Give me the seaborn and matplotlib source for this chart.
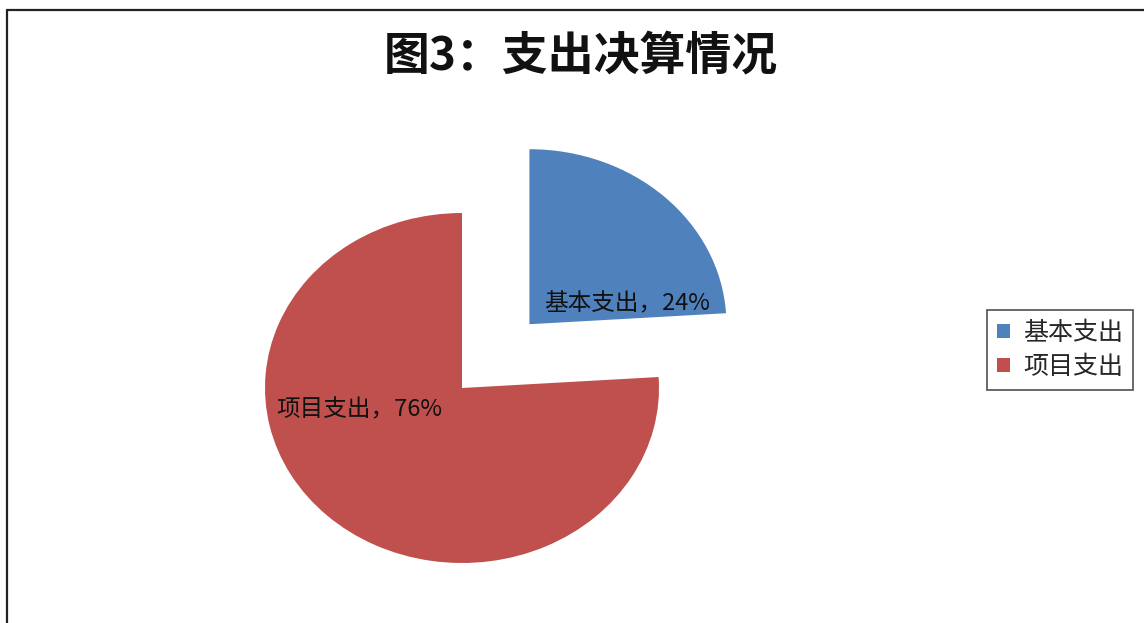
import matplotlib
matplotlib.use("Agg")
import matplotlib.pyplot as plt
import seaborn as sns
from matplotlib.lines import Line2D

categories = ["基本支出", "项目支出"]
values = [24, 76]
title_text = "图3：支出决算情况"

sns.set_theme(style="white")
plt.rcParams['font.family'] = ['Noto Sans CJK SC', 'DejaVu Sans']

colors = ["#4F81BD", "#C0504D"]

W, H = 1144, 623
fig = plt.figure(figsize=(W / 100, H / 100), dpi=100)
fig.patch.set_facecolor("white")

ax = fig.add_axes([0, 0, 1, 1])
wedges, _ = ax.pie(values, colors=colors, startangle=90, counterclock=False,
                   explode=[0.5, 0], wedgeprops=dict(linewidth=0))
ax.set_aspect("auto")

# pie centre at pixel (462, 388 from top); rx=197 px, ry=175 px
cx, cy = 462, H - 388
rx, ry = 197, 175
ax.set_xlim(-cx / rx, (W - cx) / rx)
ax.set_ylim(-cy / ry, (H - cy) / ry)
ax.axis("off")

def px(x, y_top):
    return (x - cx) / rx, (H - y_top - cy) / ry

label_pos = [px(544, 304), px(276, 410)]
for cat, v, (lx, ly) in zip(categories, values, label_pos):
    ax.text(lx, ly, f"{cat}，{v}%", ha="left", va="center", fontsize=17,
            color="#111111")

fig.text(581 / W, 1 - 56 / H, title_text, ha="center", va="center",
         fontsize=33, fontweight="bold", color="#111111")

leg = ax.legend(wedges, categories, loc="upper left",
                bbox_to_anchor=(987 / W, 1 - 310 / H), bbox_transform=fig.transFigure,
                borderaxespad=0, fontsize=18, frameon=True, fancybox=False,
                handlelength=0.5, handleheight=0.5, handletextpad=0.55,
                labelspacing=0.3, borderpad=0.4)
leg.get_frame().set_edgecolor("#222222")
leg.get_frame().set_linewidth(1.2)

# outer frame (top and left edges visible)
fig.add_artist(Line2D([7 / W, 1], [1 - 10 / H, 1 - 10 / H], transform=fig.transFigure,
                      color="#222222", linewidth=1.6))
fig.add_artist(Line2D([7 / W, 7 / W], [0, 1 - 10 / H], transform=fig.transFigure,
                      color="#222222", linewidth=1.6))

fig.savefig("out.png", dpi=100, facecolor="white")
